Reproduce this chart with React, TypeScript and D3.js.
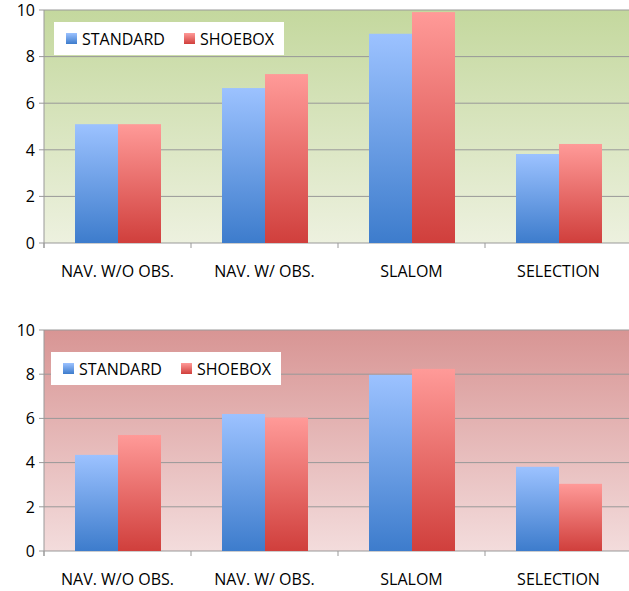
import React from "react";
import * as d3 from "d3";

const categories = ["NAV. W/O OBS.", "NAV. W/ OBS.", "SLALOM", "SELECTION"];
const seriesNames = ["STANDARD", "SHOEBOX"];
const yTicks = [0, 2, 4, 6, 8, 10];

const topStandard = [5.1, 6.65, 8.98, 3.82];
const topShoebox = [5.1, 7.25, 9.91, 4.25];

const bottomStandard = [4.35, 6.2, 7.97, 3.81];
const bottomShoebox = [5.25, 6.04, 8.24, 3.04];

const font = "'Open Sans', sans-serif";

type PanelProps = {
    id: string,
    top: number,
    bottom: number,
    standard: number[],
    shoebox: number[],
    bgTop: string,
    bgBottom: string,
    legend: { x: number, y: number },
}

const left = 44;
const right = 632;

const Panel = ({ id, top, bottom, standard, shoebox, bgTop, bgBottom, legend }: PanelProps) => {
    const x = d3.scaleBand<string>().domain(categories).range([left, right]);
    const bw = x.bandwidth();
    const inner = d3.scaleBand<string>().domain(seriesNames).range([31, bw - 30]);
    const y = d3.scaleLinear().domain([0, 10]).range([bottom, top]);
    const values = [standard, shoebox];

    return (
        <g>
            <defs>
                <linearGradient id={`bg-${id}`} x1="0" y1="0" x2="0" y2="1">
                    <stop offset="0" stopColor={bgTop} />
                    <stop offset="1" stopColor={bgBottom} />
                </linearGradient>
            </defs>
            <rect x={left} y={top} width={right - left} height={bottom - top} fill={`url(#bg-${id})`} />
            {yTicks.map(t => (
                <g key={t}>
                    <line x1={left - 5} x2={right} y1={y(t)} y2={y(t)} stroke="#999" strokeWidth={1} />
                    <text x={left - 9} y={y(t)} dy="0.36em" textAnchor="end" fontSize={16} fill="#000" fontFamily={font}>{t}</text>
                </g>
            ))}
            <line x1={left} x2={left} y1={top} y2={bottom + 5} stroke="#999" />
            {categories.map(c => (
                <line key={c} x1={x(c)!} x2={x(c)!} y1={bottom} y2={bottom + 5} stroke="#999" />
            ))}
            {categories.map((c, i) => seriesNames.map((s, j) => {
                const v = values[j][i];
                return (
                    <rect key={c + s} x={x(c)! + inner(s)!} y={y(v)} width={inner.bandwidth()}
                        height={y(0) - y(v)} fill={j === 0 ? "url(#gBlue)" : "url(#gRed)"} />
                );
            }))}
            {categories.map(c => (
                <text key={c} x={x(c)! + bw / 2} y={bottom + 28} dy="0.36em" textAnchor="middle" fontSize={16} fill="#000" fontFamily={font}>{c}</text>
            ))}
            <g transform={`translate(${legend.x},${legend.y})`}>
                <rect width={230} height={33} fill="white" />
                <rect x={12} y={11} width={11} height={11} fill="url(#gBlue)" />
                <text x={28} y={17} dy="0.36em" fontSize={16} fill="#000" fontFamily={font}>{seriesNames[0]}</text>
                <rect x={130} y={11} width={11} height={11} fill="url(#gRed)" />
                <text x={146} y={17} dy="0.36em" fontSize={16} fill="#000" fontFamily={font}>{seriesNames[1]}</text>
            </g>
        </g>
    );
};

export default function App() {
    return (
        <svg width={629} height={591} style={{ position: "absolute", left: 0, top: 0 }}>
            <defs>
                <linearGradient id="gBlue" x1="0" y1="0" x2="0" y2="1">
                    <stop offset="0" stopColor="#9cc2ff" />
                    <stop offset="1" stopColor="#3d7ccc" />
                </linearGradient>
                <linearGradient id="gRed" x1="0" y1="0" x2="0" y2="1">
                    <stop offset="0" stopColor="#ff9a98" />
                    <stop offset="1" stopColor="#d03f3c" />
                </linearGradient>
            </defs>
            <rect width={629} height={591} fill="white" />
            <Panel id="top" top={10} bottom={243} standard={topStandard} shoebox={topShoebox}
                bgTop="#c4d89e" bgBottom="#edf1df" legend={{ x: 54, y: 22 }} />
            <Panel id="bottom" top={330} bottom={551} standard={bottomStandard} shoebox={bottomShoebox}
                bgTop="#d89594" bgBottom="#f3dcdc" legend={{ x: 51, y: 352 }} />
        </svg>
    );
}
